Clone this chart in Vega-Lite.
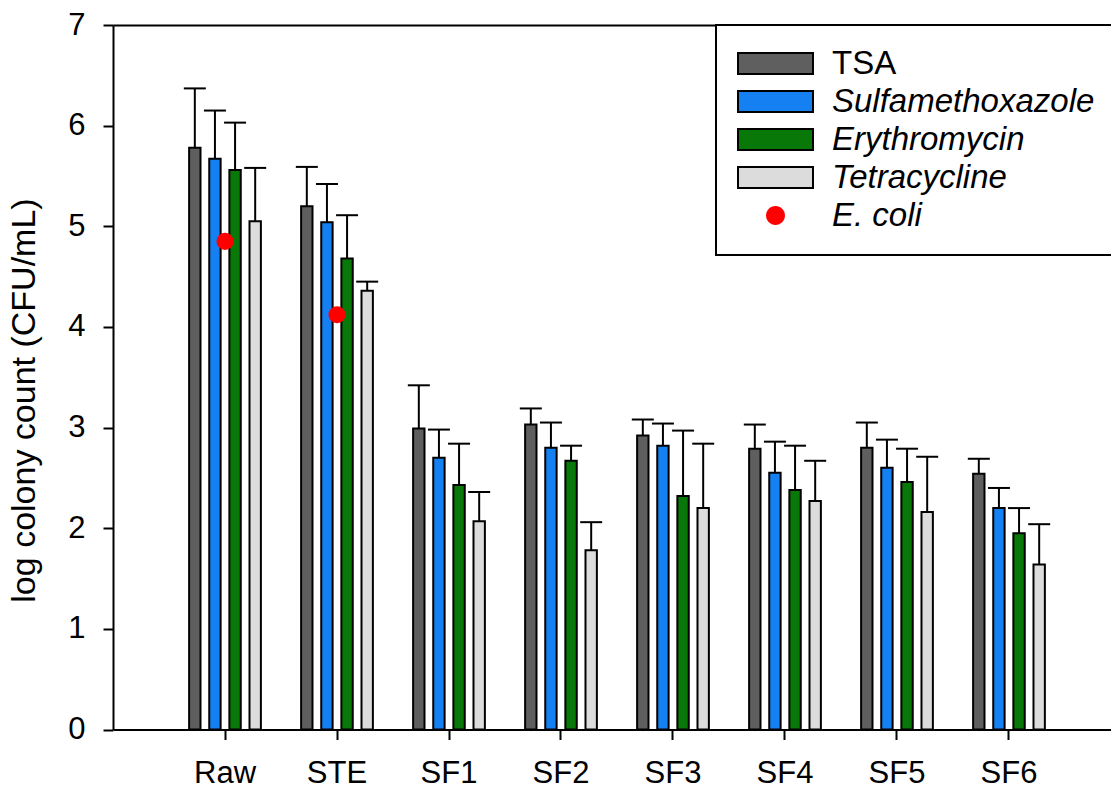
{
  "$schema": "https://vega.github.io/schema/vega-lite/v6.json",
  "autosize": "none",
  "width": 998,
  "height": 704.5,
  "padding": {"left": 113, "top": 25, "right": 0, "bottom": 59.5},
  "background": "white",
  "config": {
    "font": "Liberation Sans",
    "view": {"stroke": null},
    "axis": {"grid": false, "domainColor": "black", "domainWidth": 2, "tickColor": "black", "tickWidth": 2, "tickSize": 10, "labelColor": "black", "titleColor": "black", "labelFont": "Liberation Sans", "titleFont": "Liberation Sans"},
    "legend": {
      "title": null, "orient": "none", "legendX": 603, "legendY": 0, "columns": 1,
      "labelFontSize": 33, "labelFont": "Liberation Sans", "labelColor": "black", "labelLimit": 0,
      "symbolOffset": 21, "labelOffset": 40, "rowPadding": 4, "padding": 22,
      "strokeColor": "black", "fillColor": "white"
    }
  },
  "datasets": {
    "bars": [
      {"site": "Raw", "series": "TSA", "value": 5.78, "upper": 6.37},
      {"site": "Raw", "series": "Sulfamethoxazole", "value": 5.67, "upper": 6.15},
      {"site": "Raw", "series": "Erythromycin", "value": 5.56, "upper": 6.03},
      {"site": "Raw", "series": "Tetracycline", "value": 5.05, "upper": 5.58},
      {"site": "STE", "series": "TSA", "value": 5.20, "upper": 5.59},
      {"site": "STE", "series": "Sulfamethoxazole", "value": 5.04, "upper": 5.42},
      {"site": "STE", "series": "Erythromycin", "value": 4.68, "upper": 5.11},
      {"site": "STE", "series": "Tetracycline", "value": 4.36, "upper": 4.45},
      {"site": "SF1", "series": "TSA", "value": 2.99, "upper": 3.42},
      {"site": "SF1", "series": "Sulfamethoxazole", "value": 2.70, "upper": 2.98},
      {"site": "SF1", "series": "Erythromycin", "value": 2.43, "upper": 2.84},
      {"site": "SF1", "series": "Tetracycline", "value": 2.07, "upper": 2.36},
      {"site": "SF2", "series": "TSA", "value": 3.03, "upper": 3.19},
      {"site": "SF2", "series": "Sulfamethoxazole", "value": 2.80, "upper": 3.05},
      {"site": "SF2", "series": "Erythromycin", "value": 2.67, "upper": 2.82},
      {"site": "SF2", "series": "Tetracycline", "value": 1.78, "upper": 2.06},
      {"site": "SF3", "series": "TSA", "value": 2.92, "upper": 3.08},
      {"site": "SF3", "series": "Sulfamethoxazole", "value": 2.82, "upper": 3.04},
      {"site": "SF3", "series": "Erythromycin", "value": 2.32, "upper": 2.97},
      {"site": "SF3", "series": "Tetracycline", "value": 2.20, "upper": 2.84},
      {"site": "SF4", "series": "TSA", "value": 2.79, "upper": 3.03},
      {"site": "SF4", "series": "Sulfamethoxazole", "value": 2.55, "upper": 2.86},
      {"site": "SF4", "series": "Erythromycin", "value": 2.38, "upper": 2.82},
      {"site": "SF4", "series": "Tetracycline", "value": 2.27, "upper": 2.67},
      {"site": "SF5", "series": "TSA", "value": 2.80, "upper": 3.05},
      {"site": "SF5", "series": "Sulfamethoxazole", "value": 2.60, "upper": 2.88},
      {"site": "SF5", "series": "Erythromycin", "value": 2.46, "upper": 2.79},
      {"site": "SF5", "series": "Tetracycline", "value": 2.16, "upper": 2.71},
      {"site": "SF6", "series": "TSA", "value": 2.54, "upper": 2.69},
      {"site": "SF6", "series": "Sulfamethoxazole", "value": 2.20, "upper": 2.40},
      {"site": "SF6", "series": "Erythromycin", "value": 1.95, "upper": 2.20},
      {"site": "SF6", "series": "Tetracycline", "value": 1.64, "upper": 2.04}
    ],
    "ecoli": [
      {"site": "Raw", "series": "E. coli", "value": 4.85},
      {"site": "STE", "series": "E. coli", "value": 4.12}
    ]
  },
  "resolve": {"axis": {"x": "independent"}, "legend": {"color": "independent"}},
  "layer": [
    {
      "data": {"name": "bars"},
      "mark": {"type": "bar", "stroke": "black", "strokeWidth": 2, "opacity": 1},
      "encoding": {
        "x": {"field": "site", "type": "nominal", "sort": ["Raw", "STE", "SF1", "SF2", "SF3", "SF4", "SF5", "SF6"],
          "scale": {"domain": ["Raw", "STE", "SF1", "SF2", "SF3", "SF4", "SF5", "SF6"], "paddingInner": 0, "paddingOuter": 0.4554, "align": 0.549, "round": false},
          "axis": {"orient": "bottom", "title": null, "labelAngle": 0, "labelFontSize": 31, "labelPadding": 19, "domainWidth": 2}},
        "xOffset": {"field": "series", "type": "nominal", "scale": {"domain": ["TSA", "Sulfamethoxazole", "Erythromycin", "Tetracycline"], "paddingInner": 0.4345, "paddingOuter": 1.55, "round": false}},
        "y": {"field": "value", "type": "quantitative", "scale": {"domain": [0, 7], "nice": false, "zero": true},
          "axis": {"title": "log colony count (CFU/mL)", "values": [0, 1, 2, 3, 4, 5, 6, 7], "format": "d", "labelFontSize": 31, "labelPadding": 18, "titleFontSize": 34, "titleFontWeight": "normal", "titlePadding": 26, "titleY": 375}},
        "color": {"field": "series", "type": "nominal",
          "scale": {"domain": ["TSA", "Sulfamethoxazole", "Erythromycin", "Tetracycline", "E. coli"], "range": ["#5f5f5f", "#1580f2", "#087808", "#dcdcdc", "#ff0000"]},
          "legend": {
            "title": null,
            "encoding": {
              "legend": {"strokeWidth": {"value": 2}},
              "labels": {"fontStyle": {"value": {"expr": "datum.label === 'TSA' ? 'normal' : 'italic'"}}},
              "symbols": {
                "shape": {"value": {"expr": "datum.label === 'E. coli' ? 'M0,-0.9A0.9,0.9 0 1,1 0,0.9A0.9,0.9 0 1,1 0,-0.9Z' : 'M-3.57,-1H3.57V1H-3.57Z'"}},
                "size": {"value": 441},
                "stroke": {"value": {"expr": "datum.label === 'E. coli' ? 'transparent' : 'black'"}},
                "strokeWidth": {"value": 2},
                "fill": {"value": {"expr": "scale('color', datum.value)"}},
                "opacity": {"value": 1},
                "fillOpacity": {"value": 1}
              }
            }
          }}
      }
    },
    {
      "data": {"name": "bars"},
      "mark": {"type": "rule", "color": "black", "strokeWidth": 2},
      "encoding": {
        "x": {"field": "site", "type": "nominal", "sort": ["Raw", "STE", "SF1", "SF2", "SF3", "SF4", "SF5", "SF6"],
          "axis": {"orient": "top", "title": null, "labels": false, "ticks": false, "domain": true, "domainWidth": 2}},
        "xOffset": {"field": "series", "type": "nominal"},
        "y": {"field": "value", "type": "quantitative"},
        "y2": {"field": "upper"}
      }
    },
    {
      "data": {"name": "bars"},
      "mark": {"type": "tick", "color": "black", "size": 22, "thickness": 2, "opacity": 1},
      "encoding": {
        "x": {"field": "site", "type": "nominal", "sort": ["Raw", "STE", "SF1", "SF2", "SF3", "SF4", "SF5", "SF6"], "axis": null},
        "xOffset": {"field": "series", "type": "nominal"},
        "y": {"field": "upper", "type": "quantitative"}
      }
    },
    {
      "data": {"name": "ecoli"},
      "mark": {"type": "point", "filled": true, "size": 290, "opacity": 1, "strokeWidth": 0},
      "encoding": {
        "x": {"field": "site", "type": "nominal", "sort": ["Raw", "STE", "SF1", "SF2", "SF3", "SF4", "SF5", "SF6"], "axis": null},
        "y": {"field": "value", "type": "quantitative"},
        "color": {"field": "series", "type": "nominal", "legend": null}
      }
    }
  ]
}
